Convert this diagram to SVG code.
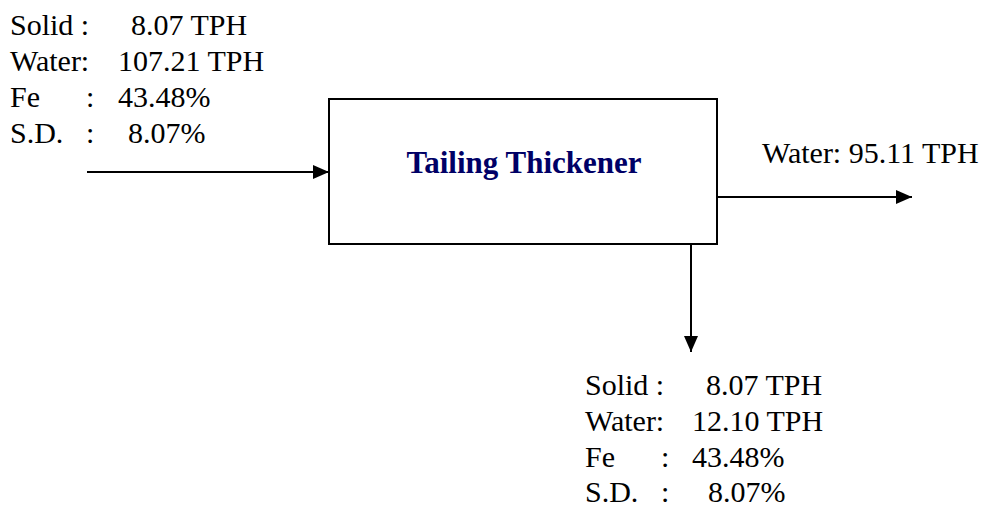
<svg xmlns="http://www.w3.org/2000/svg" width="993" height="506" viewBox="0 0 993 506">
<style>
text{font-family:"Liberation Serif","Times New Roman",serif;font-size:30px;fill:#000}
.title{font-weight:bold;font-size:31px;fill:#000066;text-anchor:middle}
.ln{stroke:#000;stroke-width:2;fill:none}
</style>
<defs>
<marker id="ah" viewBox="0 0 16 14" refX="16" refY="7" markerWidth="16" markerHeight="14" markerUnits="userSpaceOnUse" orient="auto">
<path d="M0,0 L16,7 L0,14 Z" fill="#000"/>
</marker>
</defs>
<rect width="993" height="506" fill="#fff"/>
<g id="connectors">
<line class="ln" x1="87" y1="172" x2="329" y2="172" marker-end="url(#ah)"/>
<line class="ln" x1="717" y1="197" x2="912" y2="197" marker-end="url(#ah)"/>
<line class="ln" x1="691" y1="244" x2="691" y2="352" marker-end="url(#ah)"/>
</g>
<g id="thickener">
<rect x="329" y="99" width="388" height="145" fill="#fff" stroke="#000" stroke-width="2"/>
<text class="title" x="524" y="173">Tailing Thickener</text>
</g>
<g id="feed-label">
<text y="35"><tspan x="10">Solid :</tspan><tspan x="131">8.07 TPH</tspan></text>
<text y="71"><tspan x="10">Water:</tspan><tspan x="118">107.21 TPH</tspan></text>
<text y="107"><tspan x="10">Fe</tspan><tspan x="86">:</tspan><tspan x="118">43.48%</tspan></text>
<text y="143"><tspan x="10">S.D.</tspan><tspan x="86">:</tspan><tspan x="128">8.07%</tspan></text>
</g>
<g id="overflow-label">
<text x="762" y="163">Water: 95.11 TPH</text>
</g>
<g id="underflow-label">
<text y="395"><tspan x="585">Solid :</tspan><tspan x="706">8.07 TPH</tspan></text>
<text y="431"><tspan x="585">Water:</tspan><tspan x="692">12.10 TPH</tspan></text>
<text y="467"><tspan x="585">Fe</tspan><tspan x="661">:</tspan><tspan x="692">43.48%</tspan></text>
<text y="502"><tspan x="585">S.D.</tspan><tspan x="661">:</tspan><tspan x="708">8.07%</tspan></text>
</g>
</svg>
